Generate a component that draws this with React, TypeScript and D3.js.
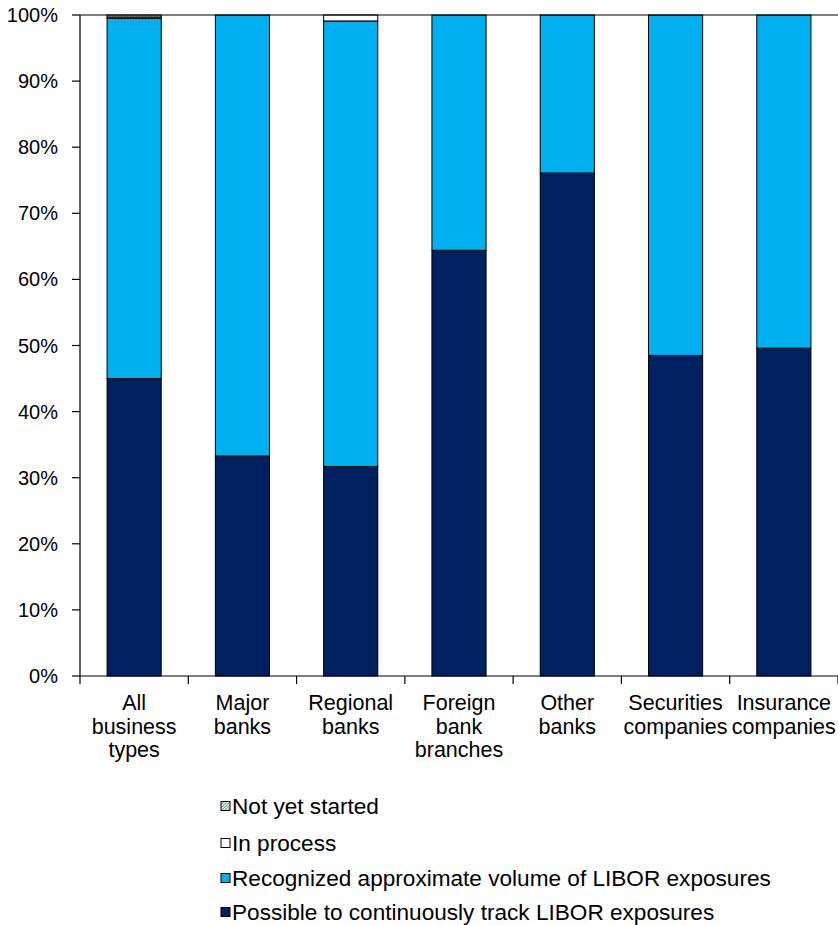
import React from "react";
import * as d3 from "d3";

const categories = [
  ["All", "business", "types"],
  ["Major", "banks"],
  ["Regional", "banks"],
  ["Foreign", "bank", "branches"],
  ["Other", "banks"],
  ["Securities", "companies"],
  ["Insurance", "companies"],
];
const possible = [45.0, 33.3, 31.7, 64.4, 76.1, 48.5, 49.6];
const recognized = [54.5, 66.7, 67.4, 35.6, 23.9, 51.5, 50.4];
const inProcess = [0.2, 0, 0.9, 0, 0, 0, 0];
const notStarted = [0.3, 0, 0, 0, 0, 0, 0];
const yTicks = [0, 10, 20, 30, 40, 50, 60, 70, 80, 90, 100];
const legendLabels = [
  "Not yet started",
  "In process",
  "Recognized approximate volume of LIBOR exposures",
  "Possible to continuously track LIBOR exposures",
];

const W = 838;
const H = 925;
const left = 80;
const right = 838;
const top = 15;
const bottom = 676;
const font = "Arial, 'Liberation Sans', sans-serif";

export default function App() {
  const x = d3.scaleBand<number>().domain(d3.range(categories.length)).range([left, right]).paddingInner(0.5).paddingOuter(0.25);
  const xb = d3.scaleBand<number>().domain(d3.range(categories.length)).range([left, right]);
  const y = d3.scaleLinear().domain([0, 100]).range([bottom, top]);
  const series = [
    { vals: possible, fill: "#002060" },
    { vals: recognized, fill: "#00B0F0" },
    { vals: inProcess, fill: "#FFFFFF" },
    { vals: notStarted, fill: "url(#hatch)" },
  ];
  const legendFills = ["url(#hatch)", "#FFFFFF", "#00B0F0", "#002060"];
  const legendY = [806, 843, 878, 912];
  return (
    <svg width={W} height={H} style={{ position: "absolute", left: 0, top: 0, background: "#fff" }} fontFamily={font}>
      <defs>
        <pattern id="hatch" patternUnits="userSpaceOnUse" width="3" height="3">
          <rect width="3" height="3" fill="#cfe8dc" />
          <path d="M0,3 L3,0" stroke="#6a8a80" strokeWidth="0.8" />
        </pattern>
      </defs>
      {categories.map((_, i) => {
        let acc = 0;
        return (
          <g key={i}>
            {series.map((s, j) => {
              const v = s.vals[i];
              const y0 = acc;
              acc += v;
              if (v <= 0) return null;
              return (
                <rect key={j} x={x(i)} width={x.bandwidth()} y={y(y0 + v)} height={y(y0) - y(y0 + v)} fill={s.fill} stroke="#000" strokeWidth={1} />
              );
            })}
          </g>
        );
      })}
      <line x1={left} x2={right} y1={y(100)} y2={y(100)} stroke="#000" strokeWidth={1.2} />
      <line x1={left} x2={right} y1={y(0)} y2={y(0)} stroke="#000" strokeWidth={1.2} />
      <line x1={left} x2={left} y1={y(0)} y2={y(100)} stroke="#000" strokeWidth={1.2} />
      {yTicks.map((t) => (
        <g key={t}>
          <line x1={left - 8} x2={left} y1={y(t)} y2={y(t)} stroke="#000" strokeWidth={1.2} />
          <text x={left - 22} y={y(t)} dy="0.35em" textAnchor="end" fontSize={20} fill="#000">
            {t}%
          </text>
        </g>
      ))}
      {d3.range(categories.length + 1).map((i) => {
        const xx = i < categories.length ? (xb(i) as number) : right;
        return <line key={i} x1={xx} x2={xx} y1={y(0)} y2={y(0) + 8} stroke="#000" strokeWidth={1.2} />;
      })}
      {categories.map((lines, i) => (
        <text key={i} x={(xb(i) as number) + xb.bandwidth() / 2} y={710} textAnchor="middle" fontSize={21.5} fill="#000">
          {lines.map((l, k) => (
            <tspan key={k} x={(xb(i) as number) + xb.bandwidth() / 2} dy={k === 0 ? 0 : 23.5}>
              {l}
            </tspan>
          ))}
        </text>
      ))}
      {legendLabels.map((l, i) => (
        <g key={i}>
          <rect x={221} y={legendY[i] - 4.5} width={9} height={9} fill={legendFills[i]} stroke="#000" strokeWidth={1} />
          <text x={232} y={legendY[i]} dy="0.35em" fontSize={22.6} fill="#000">
            {l}
          </text>
        </g>
      ))}
    </svg>
  );
}
